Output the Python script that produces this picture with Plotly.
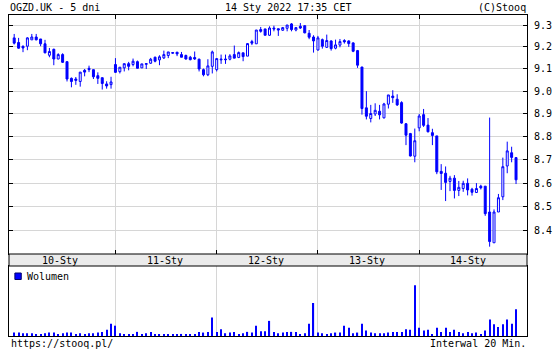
import math
import plotly.graph_objects as go

# ---------------- data ----------------
open_ = [9.241, 9.220, 9.203, 9.203, 9.232, 9.245, 9.236, 9.214, 9.162, 9.189,
         9.145, 9.165, 9.133, 9.058, 9.055, 9.044, 9.094, 9.103, 9.097, 9.070,
         9.061, 9.033, 9.030, 9.120, 9.088, 9.105, 9.124, 9.120, 9.133, 9.105,
         9.121, 9.126, 9.153, 9.141, 9.150, 9.161, 9.171, 9.176, 9.165, 9.161,
         9.153, 9.152, 9.144, 9.097, 9.074, 9.112, 9.097, 9.141, 9.145, 9.144,
         9.165, 9.152, 9.173, 9.158, 9.224, 9.214, 9.279, 9.282, 9.253, 9.286,
         9.283, 9.276, 9.285, 9.305, 9.277, 9.294, 9.297, 9.262, 9.245, 9.186,
         9.233, 9.198, 9.227, 9.194, 9.208, 9.229, 9.227, 9.218, 9.183, 9.109,
         8.927, 8.880, 8.900, 8.912, 8.883, 8.943, 8.979, 8.965, 8.950, 8.857,
         8.814, 8.716, 8.839, 8.897, 8.851, 8.818, 8.804, 8.651, 8.643, 8.608,
         8.622, 8.570, 8.578, 8.600, 8.575, 8.561, 8.588, 8.588, 8.479, 8.351,
         8.479, 8.543, 8.674, 8.731, 8.710]

high = [9.259, 9.241, 9.206, 9.244, 9.259, 9.259, 9.236, 9.232, 9.195, 9.192,
        9.171, 9.171, 9.133, 9.062, 9.064, 9.086, 9.100, 9.115, 9.097, 9.085,
        9.061, 9.045, 9.065, 9.149, 9.108, 9.124, 9.132, 9.147, 9.138, 9.123,
        9.127, 9.150, 9.156, 9.162, 9.183, 9.177, 9.176, 9.176, 9.177, 9.165,
        9.159, 9.179, 9.147, 9.102, 9.144, 9.183, 9.147, 9.165, 9.165, 9.167,
        9.206, 9.179, 9.173, 9.217, 9.232, 9.277, 9.291, 9.282, 9.294, 9.297,
        9.283, 9.291, 9.300, 9.309, 9.291, 9.309, 9.297, 9.277, 9.253, 9.250,
        9.238, 9.256, 9.230, 9.233, 9.236, 9.235, 9.230, 9.221, 9.186, 9.109,
        9.001, 8.940, 8.947, 8.940, 8.949, 8.984, 9.005, 8.987, 8.956, 8.860,
        8.817, 8.836, 8.900, 8.922, 8.882, 8.835, 8.804, 8.682, 8.672, 8.632,
        8.635, 8.610, 8.611, 8.621, 8.581, 8.601, 8.594, 8.588, 8.884, 8.490,
        8.555, 8.710, 8.779, 8.757, 8.710]

low = [9.211, 9.192, 9.176, 9.185, 9.232, 9.230, 9.203, 9.171, 9.153, 9.117,
       9.144, 9.127, 9.044, 9.018, 9.029, 9.021, 9.067, 9.086, 9.055, 9.033,
       9.008, 9.012, 9.012, 9.082, 9.080, 9.089, 9.094, 9.112, 9.103, 9.105,
       9.100, 9.123, 9.130, 9.117, 9.145, 9.149, 9.168, 9.158, 9.153, 9.142,
       9.139, 9.141, 9.089, 9.067, 9.068, 9.080, 9.089, 9.123, 9.123, 9.139,
       9.149, 9.149, 9.135, 9.158, 9.208, 9.214, 9.265, 9.253, 9.250, 9.271,
       9.250, 9.273, 9.271, 9.271, 9.271, 9.282, 9.262, 9.235, 9.174, 9.183,
       9.192, 9.195, 9.183, 9.189, 9.198, 9.215, 9.200, 9.176, 9.105, 8.897,
       8.876, 8.863, 8.891, 8.876, 8.880, 8.924, 8.949, 8.935, 8.857, 8.764,
       8.715, 8.690, 8.824, 8.843, 8.819, 8.764, 8.639, 8.572, 8.525, 8.567,
       8.536, 8.546, 8.564, 8.549, 8.548, 8.559, 8.574, 8.463, 8.335, 8.351,
       8.479, 8.529, 8.643, 8.690, 8.597]

close = [9.217, 9.194, 9.195, 9.241, 9.245, 9.232, 9.214, 9.173, 9.179, 9.145,
         9.165, 9.130, 9.055, 9.044, 9.049, 9.086, 9.086, 9.097, 9.065, 9.058,
         9.035, 9.024, 9.042, 9.085, 9.108, 9.124, 9.112, 9.135, 9.103, 9.123,
         9.124, 9.144, 9.135, 9.155, 9.165, 9.177, 9.174, 9.168, 9.153, 9.145,
         9.142, 9.145, 9.100, 9.074, 9.114, 9.177, 9.147, 9.144, 9.142, 9.159,
         9.149, 9.174, 9.156, 9.215, 9.217, 9.277, 9.271, 9.253, 9.286, 9.282,
         9.277, 9.288, 9.300, 9.279, 9.288, 9.286, 9.264, 9.244, 9.227, 9.241,
         9.203, 9.229, 9.192, 9.209, 9.224, 9.223, 9.215, 9.180, 9.117, 8.924,
         8.890, 8.902, 8.916, 8.896, 8.944, 8.984, 8.972, 8.940, 8.860, 8.807,
         8.717, 8.783, 8.891, 8.850, 8.822, 8.806, 8.649, 8.642, 8.604, 8.622,
         8.570, 8.583, 8.600, 8.572, 8.562, 8.578, 8.581, 8.472, 8.356, 8.479,
         8.539, 8.671, 8.739, 8.711, 8.615]

volume = [10, 10, 8, 8, 8, 6, 6, 8, 10, 10,
          6, 8, 10, 10, 6, 8, 6, 8, 8, 10,
          12, 18, 36, 30, 8, 6, 6, 6, 12, 6,
          8, 12, 4, 4, 4, 4, 4, 4, 6, 4,
          4, 4, 12, 10, 12, 54, 12, 20, 8, 10,
          12, 4, 8, 12, 10, 30, 14, 14, 44, 12,
          8, 10, 12, 12, 12, 6, 8, 36, 96, 10,
          8, 6, 8, 10, 10, 30, 24, 8, 10, 36,
          16, 10, 8, 8, 8, 10, 12, 12, 12, 20,
          18, 148, 24, 16, 18, 6, 24, 12, 24, 12,
          18, 12, 8, 12, 8, 10, 4, 16, 48, 34,
          26, 34, 48, 36, 78]

day_labels = ["10-Sty", "11-Sty", "12-Sty", "13-Sty", "14-Sty"]
day_starts = [23, 46, 69, 92]
price_ticks = [8.4, 8.5, 8.6, 8.7, 8.8, 8.9, 9.0, 9.1, 9.2, 9.3]
price_tick_text = ["8.4", "8.5", "8.6", "8.7", "8.8", "8.9", "9.0", "9.1", "9.2", "9.3"]

# ---------------- layout helpers ----------------
W, H = 560, 350
L, R, T, B = 8, 536, 15, 336
MAIN_BOTTOM, VOL_TOP = 254, 266

def px(x):
    return (x - L) / (R - L)

def py(y):
    return (B - y) / (B - T)

x_idx = list(range(len(open_)))
BLUE = "#0000ff"
GRID = "#d6d6d6"
FONT = dict(family="DejaVu Sans Mono", size=10, color="black")

fig = go.Figure()
fig.add_trace(go.Candlestick(
    x=x_idx, open=open_, high=high, low=low, close=close,
    increasing=dict(line=dict(color=BLUE, width=1), fillcolor="white"),
    decreasing=dict(line=dict(color=BLUE, width=1), fillcolor=BLUE),
    whiskerwidth=0, xaxis="x", yaxis="y", showlegend=False, hoverinfo="skip"))

fig.add_trace(go.Bar(
    x=x_idx, y=volume, width=0.26, marker=dict(color=BLUE, line=dict(width=0)),
    xaxis="x2", yaxis="y2", showlegend=False, hoverinfo="skip"))

xr = [-1.18, 116.49]
label_pos = [10.3, 34.3, 57.3, 80.2, 103.1]

axis_common = dict(showline=True, linecolor="black", linewidth=1, zeroline=False)

fig.update_layout(
    width=W, height=H,
    margin=dict(l=L, r=W - R, t=T, b=H - B),
    paper_bgcolor="white", plot_bgcolor="white",
    boxgap=0.36,
    showlegend=False,
    font=FONT,
    xaxis=dict(domain=[0, 1], range=xr, anchor="y",
               tickvals=day_starts, showticklabels=False,
               ticks="inside", ticklen=4, tickcolor="black",
               showgrid=True, gridcolor=GRID, gridwidth=1,
               mirror="ticks", rangeslider=dict(visible=False),
               fixedrange=True, **axis_common),
    yaxis=dict(domain=[py(MAIN_BOTTOM), 1], type="log",
               range=[math.log10(8.3048), math.log10(9.3461)],
               side="right", anchor="x",
               tickvals=price_ticks, ticktext=price_tick_text,
               ticks="inside", ticklen=4, tickcolor="black",
               ticklabelstandoff=4,
               showgrid=True, gridcolor=GRID, gridwidth=1,
               mirror="ticks", tickfont=FONT, **axis_common),
    xaxis2=dict(domain=[0, 1], range=xr, anchor="y2",
                tickvals=day_starts, showticklabels=False, ticks="",
                showgrid=True, gridcolor=GRID, gridwidth=1,
                mirror=True, **axis_common),
    yaxis2=dict(domain=[0, py(VOL_TOP)], range=[0, 203.7], anchor="x2",
                showticklabels=False, ticks="", showgrid=False,
                mirror=True, **axis_common),
)

shapes = [
    dict(type="rect", xref="paper", yref="paper",
         x0=0, x1=1, y0=py(VOL_TOP), y1=py(MAIN_BOTTOM),
         fillcolor="#ebebeb", line=dict(color="black", width=1), layer="above"),
    dict(type="rect", xref="paper", yref="paper",
         x0=px(14), x1=px(20.5), y0=py(279.5), y1=py(273),
         fillcolor=BLUE, line=dict(color="#000066", width=1), layer="above"),
]
fig.update_layout(shapes=shapes)

ann = []
for name, pos in zip(day_labels, label_pos):
    ann.append(dict(x=pos, xref="x", y=py(260.2), yref="paper", text=name,
                    showarrow=False, xanchor="center", yanchor="middle", font=FONT))

ann += [
    dict(x=px(24.5), y=py(276.2), text="Wolumen", xanchor="left"),
    dict(x=px(7), y=py(7), text="OGZD.UK - 5 dni", xanchor="left"),
    dict(x=px(226.5), y=py(7), text="14 Sty 2022 17:35 CET", xanchor="left"),
    dict(x=px(537), y=py(7), text="(C)Stooq", xanchor="right"),
    dict(x=px(7.5), y=py(343.5), text="https://stooq.pl/", xanchor="left"),
    dict(x=px(537), y=py(343.5), text="Interwal 20 Min.", xanchor="right"),
]
for a in ann[len(day_labels):]:
    a.update(xref="paper", yref="paper", showarrow=False, yanchor="middle", font=FONT)
fig.update_layout(annotations=ann)

fig.write_html("out.html", config=dict(displayModeBar=False))
